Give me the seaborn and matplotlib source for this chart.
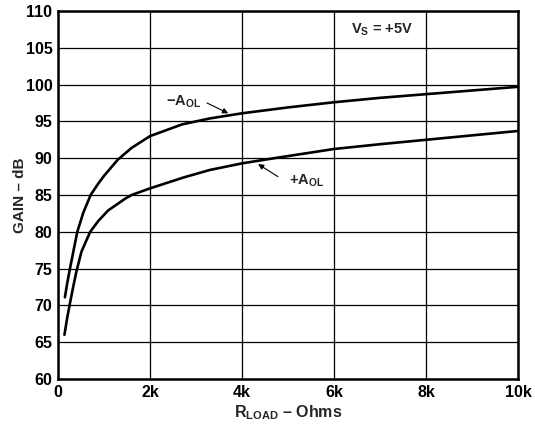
import matplotlib
matplotlib.use("Agg")
import matplotlib.pyplot as plt
import seaborn as sns
import pandas as pd

# Data (x in kOhm, gain in dB)
neg_x = [0.15, 0.2, 0.26, 0.33, 0.42, 0.55, 0.71, 0.87, 1.0, 1.3, 1.6, 2.0, 2.7, 3.3, 4.0, 5.0, 6.0, 7.0, 8.0, 9.0, 10.0]
neg_y = [71.1, 73.0, 75.0, 77.2, 80.0, 82.6, 85.0, 86.5, 87.6, 89.8, 91.4, 93.0, 94.6, 95.4, 96.1, 96.9, 97.6, 98.2, 98.7, 99.2, 99.7]
pos_x = [0.14, 0.2, 0.26, 0.33, 0.4, 0.51, 0.7, 0.88, 1.09, 1.46, 1.6, 2.0, 2.74, 3.3, 4.0, 4.7, 6.0, 7.0, 8.0, 9.0, 10.0]
pos_y = [66.0, 68.3, 70.3, 72.5, 74.6, 77.3, 80.0, 81.5, 82.9, 84.5, 85.0, 85.9, 87.4, 88.4, 89.3, 90.0, 91.25, 91.9, 92.5, 93.1, 93.7]

x_ticks = [0, 2, 4, 6, 8, 10]
x_labels = ["0", "2k", "4k", "6k", "8k", "10k"]
y_ticks = [60, 65, 70, 75, 80, 85, 90, 95, 100, 105, 110]

sns.set_theme(style="white")
plt.rcParams["font.family"] = ["Liberation Sans", "DejaVu Sans"]
plt.rcParams["font.weight"] = "bold"
plt.rcParams["mathtext.fontset"] = "custom"
plt.rcParams["mathtext.rm"] = "Liberation Sans:bold"
plt.rcParams["mathtext.it"] = "Liberation Sans:bold"
plt.rcParams["mathtext.bf"] = "Liberation Sans:bold"

df = pd.concat([
    pd.DataFrame({"r": neg_x, "gain": neg_y, "curve": "neg"}),
    pd.DataFrame({"r": pos_x, "gain": pos_y, "curve": "pos"}),
])

fig = plt.figure(figsize=(5.35, 4.28), dpi=100)
ax = fig.add_axes([0.1084, 0.1145, 0.8598, 0.8598])

sns.lineplot(data=df, x="r", y="gain", units="curve", estimator=None,
             color="black", linewidth=1.9, ax=ax, legend=False, sort=False)

ax.set_xlim(0, 10)
ax.set_ylim(60, 110)
ax.set_xticks(x_ticks)
ax.set_xticklabels(x_labels)
ax.set_yticks(y_ticks)
ax.grid(True, color="black", linewidth=0.9)
ax.set_axisbelow(True)
for s in ax.spines.values():
    s.set_visible(True)
    s.set_color("black")
    s.set_linewidth(1.8)
ax.tick_params(axis="both", length=0, labelsize=11.5, pad=4, colors="black")
for lbl in ax.get_xticklabels() + ax.get_yticklabels():
    lbl.set_fontweight("bold")

ax.set_xlabel(r"$\mathregular{R_{LOAD}}$ – Ohms", fontsize=11.5, fontweight="bold", labelpad=3)
ax.set_ylabel("GAIN – dB", fontsize=11, fontweight="bold", labelpad=-1)

ax.text(3.12, 97.6, r"$\mathregular{-A_{OL}}$", fontsize=10.5, ha="right", va="center")
ax.annotate("", xy=(3.70, 96.1), xytext=(3.24, 97.5),
            arrowprops=dict(arrowstyle="-|>", color="black", lw=0.8,
                            mutation_scale=8, shrinkA=0, shrinkB=0))
ax.text(5.02, 86.9, r"$\mathregular{+A_{OL}}$", fontsize=10.5, ha="left", va="center")
ax.annotate("", xy=(4.35, 89.2), xytext=(4.78, 87.5),
            arrowprops=dict(arrowstyle="-|>", color="black", lw=0.8,
                            mutation_scale=8, shrinkA=0, shrinkB=0))
ax.text(7.04, 107.4, r"$\mathregular{V_S}$ = +5V", fontsize=10.5, ha="center", va="center")

fig.savefig("out.png", dpi=100)
